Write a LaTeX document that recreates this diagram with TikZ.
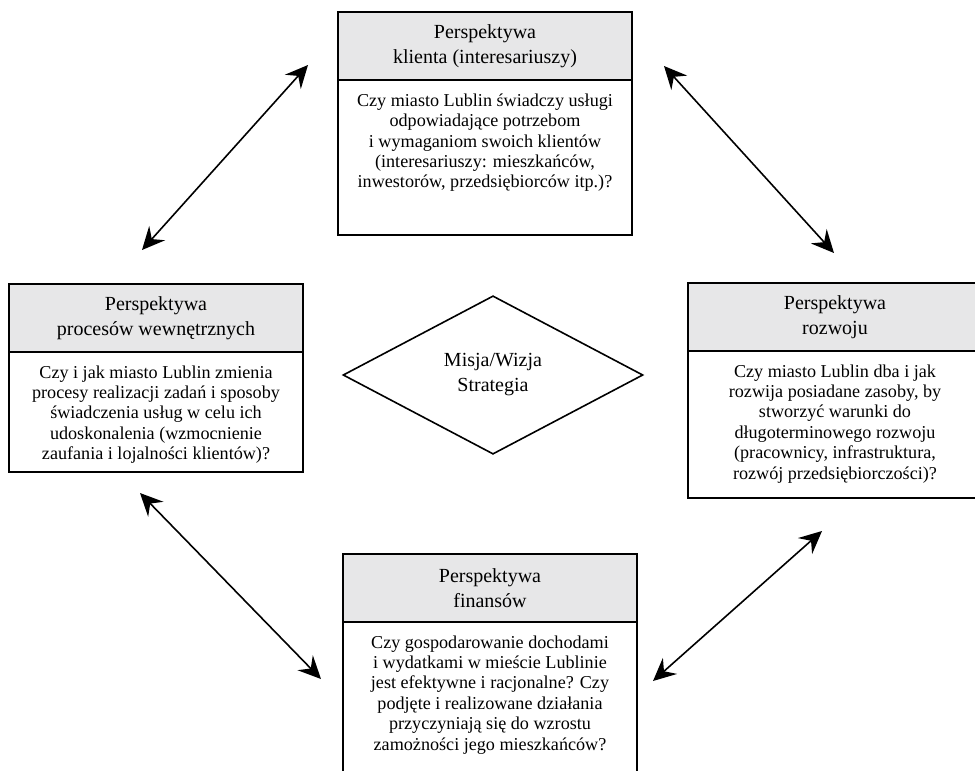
\documentclass[tikz,border=0pt]{standalone}
\usepackage{fontspec}
\setmainfont{Liberation Serif}
\usepackage{tikz}
\usetikzlibrary{arrows.meta, positioning, shapes.geometric}

\definecolor{headgray}{RGB}{231,231,232}
\newcommand{\headfont}{\fontsize{15}{18.75}\selectfont}
\newcommand{\bodyfont}{\fontsize{13.6}{15.3}\selectfont}

\begin{document}
\begin{tikzpicture}[x=0.75pt, y=-0.75pt, node distance=0pt]

  % \tikzstyle{head} = [rectangle, draw=black, fill=gray!15, thick];

  \tikzstyle{head} = [rectangle, draw=black, line width=1.3pt, outer sep=0pt, fill=headgray, minimum width=220.5pt, minimum height=51pt, align=center, font=\headfont];
  \tikzstyle{body} = [rectangle, draw=black, line width=1.3pt, outer sep=0pt, minimum width=220.5pt];
  \tikzstyle{question} = [align=center, inner sep=0pt, font=\bodyfont];
  \tikzstyle{arrow} = [{Stealth[length=17pt, width=16pt, inset=6pt]}-{Stealth[length=17pt, width=16pt, inset=6pt]}, line width=1.2pt];

  \useasboundingbox (0,0) rectangle (975,771);

  \node [head, anchor=north] (klient-head) at (485,12) {Perspektywa\\klienta (interesariuszy)};
  \node [body, minimum height=116pt, below=of klient-head] (klient) {};
  \node [question, below=10pt of klient-head] (klient-text) {Czy miasto Lublin świadczy usługi\\odpowiadające potrzebom\\i wymaganiom swoich klientów\\(interesariuszy: mieszkańców,\\inwestorów, przedsiębiorców itp.)?};

  \node [head, anchor=north] (procesy-head) at (156,284) {Perspektywa\\procesów wewnętrznych};
  \node [body, minimum height=90pt, below=of procesy-head] (procesy) {};
  \node [question, below=10pt of procesy-head] (procesy-text) {Czy i jak miasto Lublin zmienia\\procesy realizacji zadań i sposoby\\świadczenia usług w celu ich\\udoskonalenia (wzmocnienie\\zaufania i lojalności klientów)?};

  \node [head, anchor=north] (rozwoj-head) at (835,283) {Perspektywa\\rozwoju};
  \node [body, minimum height=110pt, below=of rozwoj-head] (rozwoj) {};
  \node [question, below=10pt of rozwoj-head] (rozwoj-text) {Czy miasto Lublin dba i jak\\rozwija posiadane zasoby, by\\stworzyć warunki do\\długoterminowego rozwoju\\(pracownicy, infrastruktura,\\rozwój przedsiębiorczości)?};

  \node [head, anchor=north] (finanse-head) at (490,554) {Perspektywa\\finansów};
  \node [body, minimum height=130pt, below=of finanse-head] (finanse) {};
  \node [question, below=10pt of finanse-head] (finanse-text) {Czy gospodarowanie dochodami\\i wydatkami w mieście Lublinie\\jest efektywne i racjonalne? Czy\\podjęte i realizowane działania\\przyczyniają się do wzrostu\\zamożności jego mieszkańców?};

  \node [diamond, draw=black, line width=1.2pt, minimum width=225pt, minimum height=118.5pt, align=center, font=\headfont] (misja) at (493,375) {Misja/Wizja\\Strategia};

  \coordinate (procesy-up)   at (142,250);
  \coordinate (klient-left)  at (308,65);
  \coordinate (klient-right) at (664,66);
  \coordinate (rozwoj-up)    at (834,253);
  \coordinate (procesy-down) at (140,493);
  \coordinate (finanse-left) at (321,679);
  \coordinate (finanse-right) at (653,681);
  \coordinate (rozwoj-down)  at (822,531);

  \draw [arrow] (procesy-up) -- (klient-left);
  \draw [arrow] (klient-right) -- (rozwoj-up);
  \draw [arrow] (procesy-down) -- (finanse-left);
  \draw [arrow] (finanse-right) -- (rozwoj-down);

\end{tikzpicture}
\end{document}
